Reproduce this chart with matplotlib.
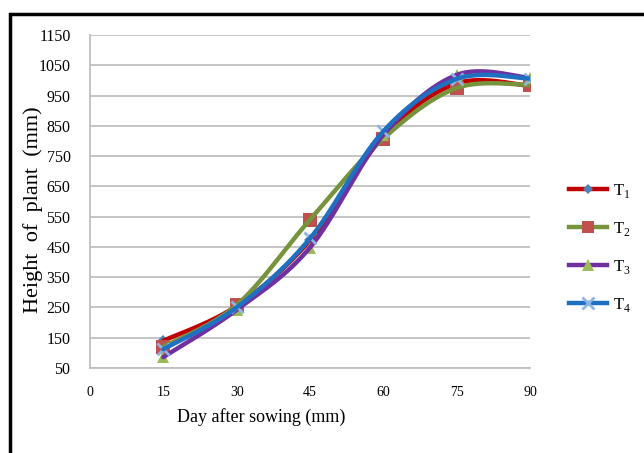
import numpy as np
import matplotlib.pyplot as plt
from matplotlib.lines import Line2D
from matplotlib.patches import Rectangle

plt.rcParams['font.family'] = ['Liberation Serif', 'DejaVu Serif']
plt.rcParams['mathtext.fontset'] = 'custom'
plt.rcParams['mathtext.rm'] = 'Liberation Serif'

days = [15, 30, 45, 60, 75, 90]
t1 = [140, 255, 472, 815, 990, 982]
t2 = [120, 258, 540, 808, 975, 985]
t3 = [86, 242, 448, 820, 1018, 1008]
t4 = [112, 250, 478, 832, 1005, 1006]
labels = ['T$_{1}$', 'T$_{2}$', 'T$_{3}$', 'T$_{4}$']

line_cols = ['#C00000', '#77933C', '#7030A0', '#1F70C1']
mark_cols = ['#4F81BD', '#C0504D', '#9BBB59', '#8DB4E2']
markers = ['D', 's', '^', 'x']
msizes = [6, 10, 9, 9]


def smooth(x, y, n=30):
    # Excel-like smoothed line (Catmull-Rom through the points)
    p = np.column_stack([x, y]).astype(float)
    p = np.vstack([p[0], p, p[-1]])
    out = []
    for i in range(1, len(p) - 2):
        p0, p1, p2, p3 = p[i - 1], p[i], p[i + 1], p[i + 2]
        c1 = p1 + (p2 - p0) / 6
        c2 = p2 - (p3 - p1) / 6
        t = np.linspace(0, 1, n)[:, None]
        seg = ((1 - t) ** 3) * p1 + 3 * ((1 - t) ** 2) * t * c1 \
            + 3 * (1 - t) * t ** 2 * c2 + t ** 3 * p2
        out.append(seg)
    s = np.vstack(out)
    return s[:, 0], s[:, 1]


fig = plt.figure(figsize=(6.44, 4.53), dpi=100)
ax = fig.add_axes([90 / 644, 1 - 368 / 453, 440 / 644, 333 / 453])

for k, ys in enumerate([t1, t2, t3, t4]):
    sx, sy = smooth(days, ys)
    ax.plot(sx, sy, color=line_cols[k], lw=3.2, zorder=3 + k, solid_capstyle='round')
for k, ys in enumerate([t1, t2, t3, t4]):
    ax.plot(days, ys, ls='none', marker=markers[k], ms=msizes[k],
            color=mark_cols[k], mew=2 if markers[k] == 'x' else 0, zorder=2 + k)

ax.set_xlim(0, 90)
ax.set_ylim(50, 1150)
ax.set_xticks(np.arange(0, 91, 15))
ax.set_yticks(np.arange(50, 1151, 100))
ax.tick_params(length=0)
ax.tick_params(axis='x', pad=13, labelsize=10)
ax.tick_params(axis='y', pad=14, labelsize=11.5)
ax.grid(axis='y', color='#BFBFBF', lw=1.3)
ax.set_axisbelow(True)
for s in ['top', 'right']:
    ax.spines[s].set_visible(False)
for s in ['left', 'bottom']:
    ax.spines[s].set_color('#BFBFBF')
    ax.spines[s].set_linewidth(1.3)

fig.text(33 / 644, 1 - 210 / 453, 'Height  of  plant  (mm)', rotation=90,
         ha='center', va='center', fontsize=16)
fig.text(261 / 644, 1 - 417 / 453, 'Day after sowing (mm)',
         ha='center', va='center', fontsize=13)

handles = [Line2D([], [], color=line_cols[k], lw=3.2, marker=markers[k],
                  ms=msizes[k] - 1, markerfacecolor=mark_cols[k],
                  markeredgecolor=mark_cols[k],
                  mew=2 if markers[k] == 'x' else 0) for k in range(4)]
fig.legend(handles, labels, loc='upper left', bbox_to_anchor=(562 / 644, 1 - 175 / 453),
           frameon=False, fontsize=12, handlelength=2.3, handletextpad=0.35,
           labelspacing=1.2, borderaxespad=0)

fig.patches.append(Rectangle((10 / 644, -0.1), 1.2, 1 - 14 / 453 + 0.1,
                             transform=fig.transFigure, fill=False,
                             edgecolor='black', lw=2.5))

fig.savefig('out.png', dpi=100)
